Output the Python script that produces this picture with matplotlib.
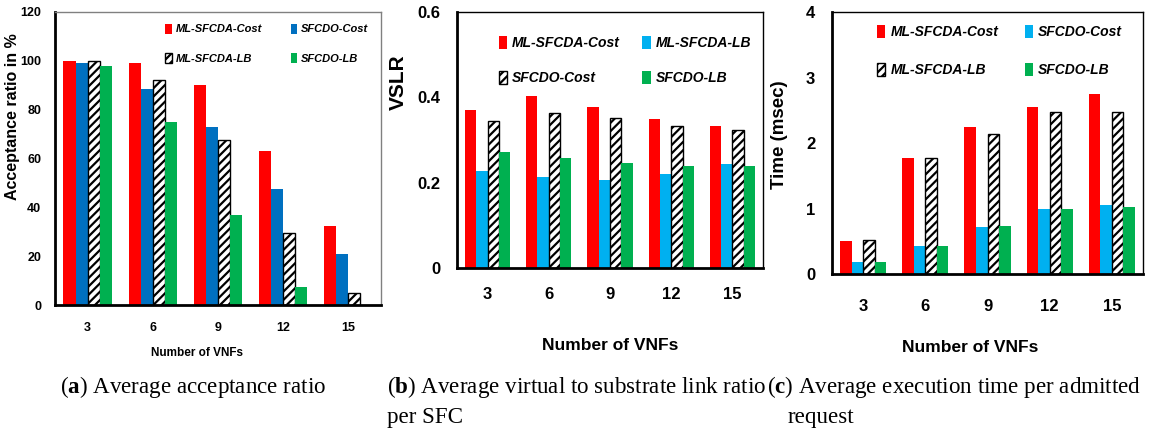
import numpy as np
import matplotlib
matplotlib.use("Agg")
import matplotlib.pyplot as plt

W, H = 1159, 432

vnfs = ["3", "6", "9", "12", "15"]

# (a) acceptance ratio in %
acc_ml_cost = [100, 99, 90, 63, 32.5]
acc_sfcdo_cost = [99, 88.5, 73, 47.5, 21]
acc_ml_lb = [100, 92, 67.5, 29.5, 5]
acc_sfcdo_lb = [98, 75, 37, 7.5, 0]

# (b) VSLR
vslr_ml_cost = [0.371, 0.403, 0.377, 0.350, 0.333]
vslr_ml_lb = [0.228, 0.213, 0.206, 0.220, 0.244]
vslr_sfcdo_cost = [0.344, 0.364, 0.352, 0.333, 0.324]
vslr_sfcdo_lb = [0.272, 0.257, 0.246, 0.240, 0.240]

# (c) execution time (msec)
time_ml_cost = [0.51, 1.77, 2.25, 2.55, 2.75]
time_sfcdo_cost = [0.19, 0.43, 0.72, 1.00, 1.05]
time_ml_lb = [0.52, 1.77, 2.13, 2.47, 2.48]
time_sfcdo_lb = [0.19, 0.43, 0.74, 1.00, 1.02]

RED = "#FF0000"
DBLUE = "#0070C0"
LBLUE = "#00B0F0"
GREEN = "#00B050"

SANS = ["Liberation Sans", "DejaVu Sans"]
plt.rcParams["hatch.linewidth"] = 1.6
plt.rcParams["mathtext.fontset"] = "custom"
plt.rcParams["mathtext.rm"] = "Liberation Serif"
plt.rcParams["mathtext.bf"] = "Liberation Serif:bold"

fig = plt.figure(figsize=(W / 100, H / 100), dpi=100)


def px_axes(l, t, r, b):
    return fig.add_axes([l / W, 1 - b / H, (r - l) / W, (b - t) / H])


def draw_panel(ax, series, labels, ylim, yticks, tick_fs):
    x = np.arange(len(vnfs))
    bw = 0.185
    handles = []
    for i, (vals, style) in enumerate(series):
        off = (i - 1.5) * bw
        if style == "hatch":
            h = ax.bar(x + off, vals, bw, color="white", edgecolor="black",
                       hatch="////", linewidth=1.0)
        else:
            h = ax.bar(x + off, vals, bw, color=style, linewidth=0)
        handles.append(h)
    ax.set_xlim(-0.5, len(vnfs) - 0.5)
    ax.set_ylim(*ylim)
    ax.set_yticks(yticks)
    ax.set_xticks(x)
    ax.set_xticklabels(vnfs)
    ax.tick_params(length=0, labelsize=tick_fs)
    for lbl in ax.get_xticklabels() + ax.get_yticklabels():
        lbl.set_fontweight("bold")
        lbl.set_family(SANS)
    for s in ["left", "bottom"]:
        ax.spines[s].set_linewidth(2)
    for s in ["top", "right"]:
        ax.spines[s].set_linewidth(1)
    return handles


def add_legend(ax, handles, labels, fs, anchor, colspace, rowspace):
    # row-major order: entries 0,1 on row one and 2,3 on row two
    order = [0, 2, 1, 3]
    ax.legend([handles[i] for i in order], [labels[i] for i in order],
              ncol=2, loc="upper left", bbox_to_anchor=anchor, frameon=False,
              borderpad=0, borderaxespad=0,
              handlelength=0.6, handleheight=1.0, handletextpad=0.35,
              columnspacing=colspace, labelspacing=rowspace,
              prop={"size": fs, "weight": "bold", "style": "italic",
                    "family": SANS})


# panel (a)
axa = px_axes(55, 12, 381, 305)
labels_a = ["ML-SFCDA-Cost", "SFCDO-Cost", "ML-SFCDA-LB", "SFCDO-LB"]
ha = draw_panel(axa,
                [(acc_ml_cost, RED), (acc_sfcdo_cost, DBLUE),
                 (acc_ml_lb, "hatch"), (acc_sfcdo_lb, GREEN)],
                labels_a, (0, 120), [0, 20, 40, 60, 80, 100, 120], 9)
axa.tick_params(axis="y", pad=10)
axa.tick_params(axis="x", pad=12)
add_legend(axa, ha, labels_a, 8, (0.337, 0.96), 2.6, 1.7)
axa.set_ylabel("Acceptance ratio in %", fontsize=11.5, fontweight="bold",
               family=SANS)
axa.yaxis.set_label_coords(-43 / 326, (305 - 117) / 293)
axa.yaxis.label.set_va("center")
axa.set_xlabel("Number of VNFs", fontsize=8.5, fontweight="bold", family=SANS)
axa.xaxis.set_label_coords((197 - 55) / 326, -(353 - 305) / 293)
axa.xaxis.label.set_va("center")
axa.spines["top"].set_color("#808080")
axa.spines["right"].set_color("#808080")

# panel (b)
axb = px_axes(457, 12, 763, 268)
labels_b = ["ML-SFCDA-Cost", "ML-SFCDA-LB", "SFCDO-Cost", "SFCDO-LB"]
hb = draw_panel(axb,
                [(vslr_ml_cost, RED), (vslr_ml_lb, LBLUE),
                 (vslr_sfcdo_cost, "hatch"), (vslr_sfcdo_lb, GREEN)],
                labels_b, (0, 0.6), [0, 0.2, 0.4, 0.6], 12)
axb.set_yticklabels(["0", "0.2", "0.4", "0.6"])
for lbl in axb.get_yticklabels():
    lbl.set_fontweight("bold")
axb.tick_params(axis="y", pad=12)
axb.tick_params(axis="x", pad=14)
add_legend(axb, hb, labels_b, 10, (0.137, 0.905), 1.6, 1.5)
axb.set_ylabel("VSLR", fontsize=15, fontweight="bold", family=SANS)
axb.yaxis.set_label_coords(-(457 - 398) / 306, (268 - 82) / 256)
axb.yaxis.label.set_va("center")
axb.set_xlabel("Number of VNFs", fontsize=12.5, fontweight="bold", family=SANS)
axb.xaxis.set_label_coords(0.5, -(345 - 268) / 256)
axb.xaxis.label.set_va("center")

# panel (c)
axc = px_axes(832, 12, 1143, 274)
labels_c = ["ML-SFCDA-Cost", "SFCDO-Cost", "ML-SFCDA-LB", "SFCDO-LB"]
hc = draw_panel(axc,
                [(time_ml_cost, RED), (time_sfcdo_cost, LBLUE),
                 (time_ml_lb, "hatch"), (time_sfcdo_lb, GREEN)],
                labels_c, (0, 4), [0, 1, 2, 3, 4], 12)
axc.tick_params(axis="y", pad=12)
axc.tick_params(axis="x", pad=18)
add_legend(axc, hc, labels_c, 10, (0.145, 0.95), 1.9, 1.75)
axc.set_ylabel("Time (msec)", fontsize=13.5, fontweight="bold", family=SANS)
axc.yaxis.set_label_coords(-(832 - 780) / 311, (274 - 135) / 262)
axc.yaxis.label.set_va("center")
axc.set_xlabel("Number of VNFs", fontsize=12.5, fontweight="bold", family=SANS)
axc.xaxis.set_label_coords((970 - 832) / 311, -(348 - 274) / 262)
axc.xaxis.label.set_va("center")

# captions
SERIF = ["Liberation Serif", "DejaVu Serif"]
cap_fs = 16.6
fig.text(60 / W, 1 - 387 / H, r"($\bf{a}$) Average acceptance ratio",
         fontsize=cap_fs, family=SERIF, va="center")
fig.text(387 / W, 1 - 387 / H,
         r"($\bf{b}$) Average virtual to substrate link ratio",
         fontsize=cap_fs, family=SERIF, va="center")
fig.text(387 / W, 1 - 417 / H, "per SFC", fontsize=cap_fs, family=SERIF,
         va="center")
fig.text(767 / W, 1 - 387 / H,
         r"($\bf{c}$) Average execution time per admitted",
         fontsize=cap_fs, family=SERIF, va="center")
fig.text(788 / W, 1 - 417 / H, "request", fontsize=cap_fs, family=SERIF,
         va="center")

fig.savefig("out.png", dpi=100)
